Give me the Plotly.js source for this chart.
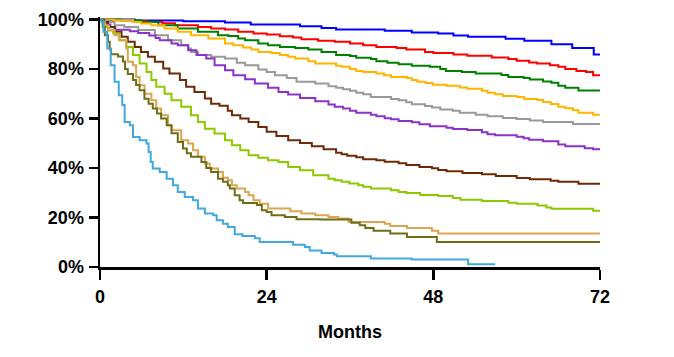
<!DOCTYPE html>
<html><head><meta charset="utf-8">
<script src="https://cdn.plot.ly/plotly-3.0.1.min.js"></script>
<style>html,body{margin:0;padding:0;background:#fff;}#chart{width:674px;height:357px;}</style>
</head><body><div id="chart"></div>
<script>
// Survival curves (months, % surviving), step points
const blueX = [0,5,12,18,21.7,28.8,31.9,34,41,44.9,48.7,50.9,53,58.4,61.1,65,68,71.1,72];
const blueY = [100,99.6,99.3,98.8,98,97.3,96.6,95.9,95.4,94.7,94.3,93.5,93,92.2,91.4,90,88.5,85.8,85.8];

const redX = [0,2,5,6.9,9,10.8,14.1,16,18,19.9,22.1,24,25.9,27.8,29,31.4,33.8,36,37.9,39.8,42.7,44.1,46.8,48,50.9,52.9,56.4,58.8,60,61.8,62.9,64.8,66,67,68.6,70,71,72];
const redY = [100,99.7,99.3,99,98.5,97.7,97,96.4,96,95,94.3,93.9,93.2,92.7,92,91.4,91,90.3,89.6,88.9,88.5,87.9,86.9,86.5,85.8,85.3,84.6,84,83.3,82.6,82.2,81.5,80.9,80,79.2,78.8,77.5,77.5];

const greenX = [0,3,5.9,8.4,11.2,14.1,17,18.5,19.9,20.9,22.8,24.2,25.9,28.1,30,31.9,34,36,36.9,39,39.8,41.4,43,44.9,47.5,49,49.8,52.1,54.1,57.8,58.8,61,61.9,63.8,65,66,67,68.9,72];
const greenY = [100,99.7,99,97.7,96.4,95,93.6,93.3,92.3,91.6,90.3,89.6,88.9,88.5,87.9,86.9,85.6,85.2,84.5,84,83.1,82.5,81.9,81.3,80.9,80,79.2,78.8,78.2,77.6,76.8,76.4,75.7,74.9,74.4,73.2,72.4,71.3,71.3];

const yellowX = [0,2,4.75,5.9,7.4,9.3,11.2,13.1,15.6,18,19.2,20.6,21.8,22.8,24.7,25.9,27.1,28.1,30,31,34,34.8,36,36.9,37.9,39.8,40.9,41.9,44.2,44.9,45.7,46.9,47.9,49.9,51.8,52.9,55,55.8,56.9,58,60,61.1,63,63.8,64.9,66,67,68.1,68.9,71,72];
const yellowY = [100,99.7,99,98.4,97.7,96.4,95,93.6,92.3,90.3,89.6,88.7,87.9,86.9,86.5,85.6,84.9,84.2,83.1,82.2,81.3,80.9,80,79.2,78.8,78.2,77.5,76.8,76.4,75.5,74.8,74.3,73.6,73.2,72.5,72,71.2,70.4,69.8,69.1,68.7,67.9,67.5,66.7,65.9,64.7,64.1,63.3,62.3,61.5,61.5];

const grayX = [0,0.7,1.3,2.1,3.5,5.5,7.9,9.8,11.7,12.7,13.1,14.1,16,18,19.7,20.9,22.8,24,25.2,26.9,28.3,31,32.9,34,35,36,36.9,37.9,39,41.9,43,44.1,44.9,46.8,47.8,49,50.8,51.8,54.1,55.8,58,60,61.9,63.8,68.1,72];
const grayY = [100,99.5,99,97.7,97,95.7,93.6,91.6,89.6,88.3,86.9,85.6,84.9,84.2,82.5,81.5,79.8,78.8,77.5,76.4,74.8,74.1,73,72.4,71.8,71.2,70.4,69.8,68.7,67.9,67.4,66.6,65.8,65,64.4,63.6,63.1,62.3,61.5,60.9,60.2,59.8,59.2,58.6,57.8,57.8];

const purpleX = [0,0.5,1,1.5,2.2,4.3,5.5,7.1,8,8.6,10.3,11.2,12.7,13.9,15.3,16.5,18,19.2,20.9,22.3,24.2,25.7,27.1,28.8,31,32.9,33.8,35,36,36.9,39,39.8,41,41.9,43,44.9,46,47.5,49.9,50.8,52.9,55,55.8,56.9,60,61,61.8,63.8,66,67,69.8,71,72];
const purpleY = [100,99,98,97,95.8,95.2,94.5,93.5,92.5,91.6,90.3,89.6,87.6,85.6,84.2,81.5,79.5,77.5,75.9,74.1,72.4,70.7,69.7,68.3,67,65.6,64.7,64,63.1,62.3,61.5,60.9,60.1,59.7,59,58.5,57.7,56.9,56.3,55.8,55.3,54.4,53.6,53.2,52.6,52,51.4,50.8,49.5,48.8,48,47.6,47.6];

const brownX = [0,0.5,1.15,2.1,3.1,4,5,5.9,6.9,7.9,9.1,10,11.5,12.4,13.6,15.1,16,17.2,18.4,19,20.2,21.4,22.8,24,25.4,27.1,28.8,30.5,32.2,34,34.8,35.6,36.9,37.9,39.8,41,43,44.1,46,47.8,48.7,49.9,52.2,55,57,60,61.9,64.9,66,68.9,72];
const brownY = [100,99,97,95,93,91,88.9,86.9,84.9,82.9,80.2,78.2,75.5,72.8,70.7,68.1,66,65.1,63.1,61.3,60,58.6,56.6,54.6,52.9,51.2,50.1,48.8,47.6,46.2,45.6,44.9,44.3,43.5,43.1,42.5,41.9,41.2,40.4,39.9,39.2,38.7,38,37.5,36.8,36,35.5,34.8,34.4,33.6,33.6];

const limeX = [0,0.3,0.7,1.3,1.9,2.8,3.8,4.75,5.7,6.7,7.4,8.1,9.3,10.3,11.7,13.1,14.1,15.1,16.5,18,19,20.2,21.4,22.8,24.2,25.7,27.1,28.8,30.7,32.9,33.8,34.8,35.9,37.2,37.9,39,41.9,43,44.1,46.1,48.7,50.8,51.9,55,58.8,60,63,64.3,65,71,72];
const limeY = [100,99,97,95.5,94.3,91.6,88.9,85.6,82.2,78.8,75.5,72.8,70,67.4,64.7,61.3,58.6,55.9,53.9,51.2,49.2,47.2,45.1,44.1,43.1,42.4,40.4,39.1,37.1,35.7,35,34.4,33.7,33,32.4,31.7,31,30.3,29.9,29.1,28.7,27.9,27.2,26.7,26,25.6,24.8,24,23.5,22.7,22.7];

const tanX = [0,0.4,1.15,2.1,2.8,3.8,4,4.75,5.2,5.7,6.4,7.4,8.1,8.8,9.8,10.3,11.7,12.7,13.4,14.1,15.1,15.8,17,17.7,18.4,19,19.7,20.9,21.4,22.1,23,24.2,27.4,29,31,32.9,34.3,35.8,41,41.8,44.2,47.8,48.7,72];
const tanY = [100,97.7,95.7,93.6,91.6,88.3,82.9,81.5,76.8,73.4,70,67.4,64,61.3,57.3,55.2,51.2,49.9,47.2,44.5,41.8,39.8,38.4,36.1,35,33,31.7,30.3,29,27,25.6,23.6,22.5,21.6,20.9,20.2,19.6,18.2,17.5,16.6,15.8,14.6,13.5,13.5];

const oliveX = [0,0.4,0.7,1.15,1.4,1.6,2.6,3.3,3.6,4,4.75,5.2,5.7,6.4,7,7.6,8.2,8.8,9.6,10.3,11.2,11.95,12.5,13.1,14.6,15.3,16,17,17.7,18.4,18.7,19.4,20.1,20.6,22.6,23.3,24,24.7,26.6,28.3,31.7,36.2,37.4,38.2,39.4,41.8,44.2,48.5,72];
const oliveY = [100,97,93.6,91,88,86,85,83,80,78,75.5,73.5,71.4,68,66,64,62,60,57.3,54,50.5,47.9,46,44.5,42.4,40,38.4,35.7,34.4,33,31.7,29,27,25.9,25,22.9,22.2,20.9,20.2,19.3,19.15,17.9,16.9,15.8,14.6,13.5,12.1,10.1,10.1];

const skyX = [0,0.2,0.5,1.05,1.54,2.1,2.7,3.2,3.55,4.3,4.75,5.7,6.7,7,7.3,7.6,8.6,9.6,10.5,11.2,12.2,13.4,14.1,15.1,16.3,16.8,17.7,18.4,19.4,20.5,22.3,23,27.8,29.5,30.2,31.9,33.7,34.1,39,44.9,53,56.9];
const skyY = [100,99,95,88.3,81.5,74.8,69.4,65.4,58.6,57.3,52.5,51.2,49.9,46.5,42.4,39.8,38.4,35.7,33,30.3,28.3,27,23.6,21.6,20.9,18.9,17.5,16.2,13.2,12.5,11.6,10.1,9,8.1,6.7,5.7,5.1,4.3,3.4,3,1.1,1.1];

const xTicks = [0,24,48,72];
const yTicks = [0,20,40,60,80,100];
const yTickText = ['0%','20%','40%','60%','80%','100%'];
const xTitle = 'Months';

const series = [
  [blueX, blueY, '#0000ff'],
  [redX, redY, '#ff0000'],
  [greenX, greenY, '#008000'],
  [yellowX, yellowY, '#ffb400'],
  [grayX, grayY, '#999999'],
  [purpleX, purpleY, '#8b32c8'],
  [brownX, brownY, '#6e2a06'],
  [limeX, limeY, '#8dc900'],
  [tanX, tanY, '#dca550'],
  [oliveX, oliveY, '#6e6e1a'],
  [skyX, skyY, '#42a8de']
];

const traces = series.map(s => ({
  x: s[0], y: s[1], type: 'scatter', mode: 'lines',
  line: {shape: 'hv', color: s[2], width: 2},
  hoverinfo: 'skip'
}));

const tickFont = {family: 'Liberation Sans, Arial, sans-serif', size: 18, color: '#000', weight: 'bold'};

const layout = {
  width: 674, height: 357,
  margin: {l: 100, r: 74, t: 17, b: 90},
  paper_bgcolor: '#fff', plot_bgcolor: '#fff',
  showlegend: false,
  hovermode: false,
  xaxis: {
    range: [0, 72], tickvals: xTicks, ticktext: xTicks.map(String),
    showgrid: false, zeroline: false,
    showline: true, linecolor: '#000', linewidth: 2.5,
    ticks: 'outside', ticklen: 10, tickwidth: 2.5, tickcolor: '#000',
    tickfont: tickFont, ticklabelstandoff: 2,
    title: {text: xTitle, font: tickFont, standoff: 20}
  },
  yaxis: {
    range: [0, 101], tickvals: yTicks, ticktext: yTickText,
    showgrid: false, zeroline: false,
    showline: true, linecolor: '#000', linewidth: 2.5,
    ticks: 'outside', ticklen: 9, tickwidth: 2.5, tickcolor: '#000',
    tickfont: tickFont, ticklabelstandoff: 1
  }
};

Plotly.newPlot('chart', traces, layout, {staticPlot: true, displayModeBar: false});
</script>
</body></html>
